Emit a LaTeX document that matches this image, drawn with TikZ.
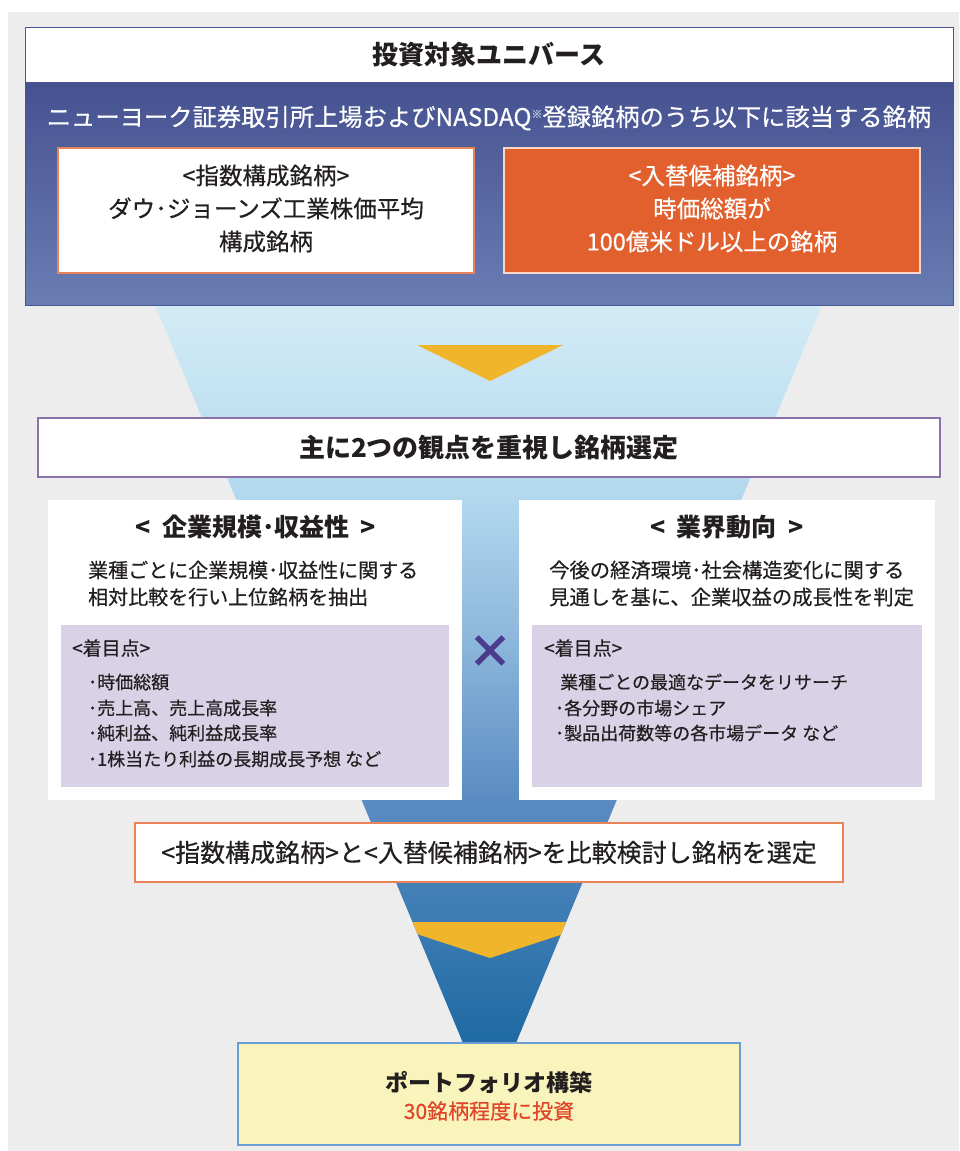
\documentclass[tikz,border=0pt]{standalone}
\usepackage{fontspec}
\setmainfont{Noto Sans CJK JP}
\newfontfamily\md[FakeBold=0.5]{Noto Sans CJK JP}
\usetikzlibrary{shadings}
\definecolor{bggray}{HTML}{EDEDED}
\definecolor{navytop}{HTML}{3D4788}
\definecolor{navybot}{HTML}{6A7DB3}
\definecolor{navyline}{HTML}{4A5595}
\definecolor{orangefill}{HTML}{E2602E}
\definecolor{orangeline}{HTML}{E9835A}
\definecolor{purpline}{HTML}{8B72A8}
\definecolor{lilac}{HTML}{D9D1E6}
\definecolor{chev}{HTML}{F1B52C}
\definecolor{txt}{HTML}{231F20}
\definecolor{crosscol}{HTML}{4B3B8C}
\definecolor{yellowfill}{HTML}{F8F4BB}
\definecolor{blueline}{HTML}{6B9FD3}
\definecolor{redtxt}{HTML}{E0452A}
\definecolor{f0}{HTML}{1E6AA4}
\definecolor{f1}{HTML}{5A8CC2}
\definecolor{f2}{HTML}{8DB8DC}
\definecolor{f3}{HTML}{B2D8EE}
\definecolor{f4}{HTML}{D3ECF6}
\pgfdeclareverticalshading{funnelshade}{100bp}{color(0bp)=(f0); color(25bp)=(f0); color(41.5bp)=(f1); color(52.5bp)=(f2); color(62bp)=(f3); color(75bp)=(f4); color(100bp)=(f4)}
\newcommand\fsz[2]{\fontsize{#1}{#2}\selectfont}
\tikzset{
  boxnw/.style={anchor=north west, inner sep=0pt, outer sep=0pt},
  ctext/.style={text=txt, inner sep=0pt, align=center},
  ltext/.style={text=txt, inner sep=0pt, anchor=west},
}
\begin{document}
\begin{tikzpicture}[x=1pt,y=-1pt]
\useasboundingbox (0,0) rectangle (959,1151);
\fill[white] (0,0) rectangle (959,1151);
\fill[bggray] (8,12) rectangle (959,1151);
% funnel
\path[shading=funnelshade] (155,305) -- (822,305) -- (516,1043) -- (463,1043) -- cycle;
\begin{scope}
\clip (155,305) -- (822,305) -- (516,1043) -- (463,1043) -- cycle;
\fill[chev] (380,922) -- (600,922) -- (490,958) -- cycle;
\end{scope}
\fill[chev] (417,345) -- (563,345) -- (490,381) -- cycle;
% universe
\node[boxnw, draw=navyline, line width=1pt, top color=navytop, bottom color=navybot, minimum width=928, minimum height=278] (univ) at (25,27) {};
\node[boxnw, fill=white, draw=navyline, line width=0.6pt, minimum width=928, minimum height=55] (head) at (25,27) {};
\node[ctext, font=\fsz{26}{30}\bfseries] (headt) at (489,55) {投資対象ユニバース};
\node[ctext, text=white, font=\md\fsz{24.3}{28}] (sub) at (489,118) {ニューヨーク証券取引所上場およびNASDAQ\raisebox{0.6ex}{\fsz{11}{12}\color{white!70!navytop}※}登録銘柄のうち以下に該当する銘柄};
\node[boxnw, fill=white, draw=orangeline, line width=1.5pt, minimum width=416, minimum height=125] (idx) at (58,148) {};
\node[ctext, font=\md\fsz{23.5}{33}] (idxt) at ([yshift=2]idx.center) {<指数構成銘柄>\\ダウ･ジョーンズ工業株価平均\\構成銘柄};
\node[boxnw, fill=orangefill, draw=white!75!orangefill, line width=1.2pt, minimum width=416, minimum height=125] (cand) at (504,148) {};
\node[ctext, text=white, font=\md\fsz{23.5}{33}] (candt) at ([yshift=2]cand.center) {<入替候補銘柄>\\時価総額が\\100億米ドル以上の銘柄};
% two viewpoints
\node[boxnw, fill=white, draw=purpline, line width=1.2pt, minimum width=902, minimum height=59] (two) at (38,418) {};
\node[ctext, font=\fsz{26}{30}\bfseries] (twot) at (two.center) {主に2つの観点を重視し銘柄選定};
% left panel
\node[boxnw, fill=white, minimum width=414, minimum height=300] (lp) at (48,500) {};
\node[ctext, font=\fsz{25}{30}\bfseries] (lpt) at (256,527) {<\hspace{0.45em}企業規模･収益性\hspace{0.45em}>};
\node[ltext, font=\md\fsz{20}{24}] (lb1) at (88,570) {業種ごとに企業規模･収益性に関する};
\node[ltext, font=\md\fsz{20}{24}] (lb2) at (88,597) {相対比較を行い上位銘柄を抽出};
\node[boxnw, fill=lilac, minimum width=388, minimum height=162] (lin) at (61,625) {};
\node[ltext, font=\md\fsz{19}{22}] (lfoc) at (72,648) {<着目点>};
\node[ltext, font=\md\fsz{18}{22}] (l1) at (88,682) {･時価総額};
\node[ltext, font=\md\fsz{18}{22}] (l2) at (88,708) {･売上高、売上高成長率};
\node[ltext, font=\md\fsz{18}{22}] (l3) at (88,733) {･純利益、純利益成長率};
\node[ltext, font=\md\fsz{18}{22}] (l4) at (88,759) {･1株当たり利益の長期成長予想 など};
% right panel
\node[boxnw, fill=white, minimum width=416, minimum height=300] (rp) at (519,500) {};
\node[ctext, font=\fsz{25}{30}\bfseries] (rpt) at (727,527) {<\hspace{0.45em}業界動向\hspace{0.45em}>};
\node[ltext, font=\md\fsz{20.3}{24}] (rb1) at (549,570) {今後の経済環境･社会構造変化に関する};
\node[ltext, font=\md\fsz{20.3}{24}] (rb2) at (549,597) {見通しを基に、企業収益の成長性を判定};
\node[boxnw, fill=lilac, minimum width=390, minimum height=162] (rin) at (532,625) {};
\node[ltext, font=\md\fsz{19}{22}] (rfoc) at (544,648) {<着目点>};
\node[ltext, font=\md\fsz{18}{22}] (r1) at (560,682) {業種ごとの最適なデータをリサーチ};
\node[ltext, font=\md\fsz{18}{22}] (r2) at (555,708) {･各分野の市場シェア};
\node[ltext, font=\md\fsz{18}{22}] (r3) at (555,733) {･製品出荷数等の各市場データ など};
% cross
\node[ctext, text=crosscol, font=\fsz{46}{50}\bfseries] (cross) at (490,652) {×};
% compare
\node[boxnw, fill=white, draw=orangeline, line width=1.5pt, minimum width=708, minimum height=59] (cmp) at (135,823) {};
\node[ctext, font=\md\fsz{25}{30}] (cmpt) at (cmp.center) {<指数構成銘柄>と<入替候補銘柄>を比較検討し銘柄を選定};
% portfolio
\node[boxnw, fill=yellowfill, draw=blueline, line width=1.2pt, minimum width=502, minimum height=102] (pf) at (238,1043) {};
\node[ctext, font=\fsz{23}{27}\bfseries] (pft) at (489,1083) {ポートフォリオ構築};
\node[ctext, text=redtxt, font=\md\fsz{21}{25}] (pfs) at (489,1111) {30銘柄程度に投資};
\end{tikzpicture}
\end{document}
